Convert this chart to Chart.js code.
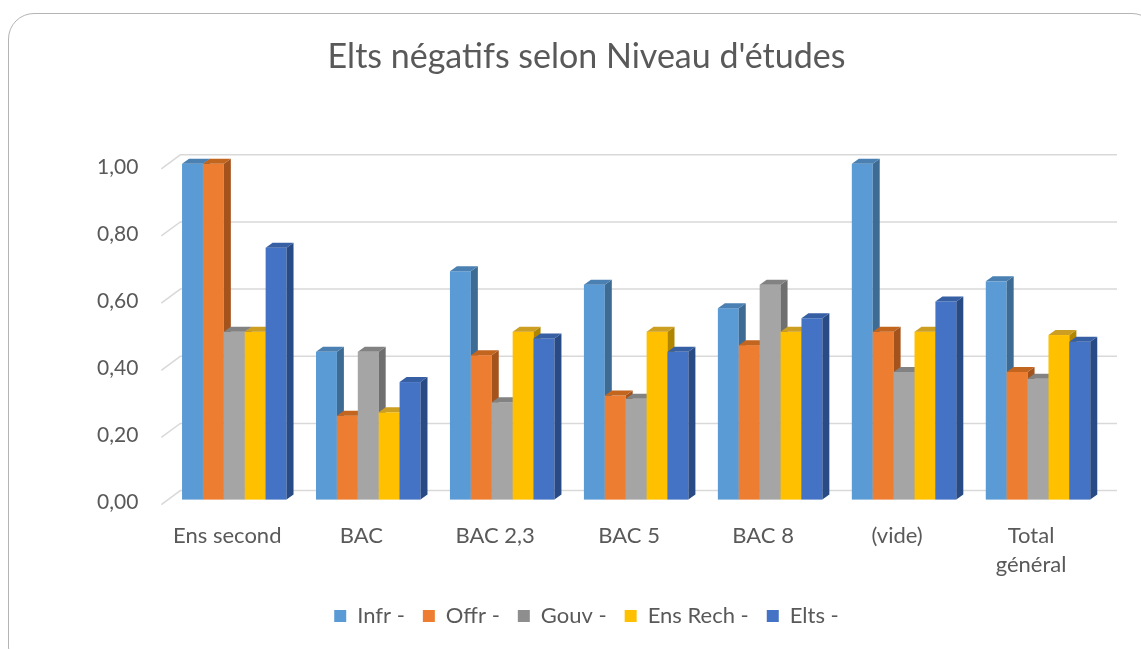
<!DOCTYPE html>
<html>
<head>
<meta charset="utf-8">
<script src="https://cdn.jsdelivr.net/npm/chart.js@4/dist/chart.umd.min.js"></script>
<style>
  html, body { margin: 0; padding: 0; background: #fff; overflow: hidden; }
  .frame {
    position: absolute; left: 8px; top: 13px; width: 1150px; height: 660px;
    border: 1.5px solid #b4b4b4; border-radius: 26px; box-sizing: border-box;
  }
  .chart-container { position: absolute; left: 0; top: 0; width: 1141px; height: 649px; }
</style>
</head>
<body>
<div class="frame"></div>
<div class="chart-container"><canvas id="myChart"></canvas></div>
<script>
const ctx = document.getElementById('myChart');

// Categories and series
const categories = ['Ens second', 'BAC', 'BAC 2,3', 'BAC 5', 'BAC 8', '(vide)', ['Total', 'général']];
const infr    = [1.00, 0.44, 0.68, 0.64, 0.57, 1.00, 0.65];
const offr    = [1.00, 0.25, 0.43, 0.31, 0.46, 0.50, 0.38];
const gouv    = [0.50, 0.44, 0.29, 0.30, 0.64, 0.38, 0.36];
const ensRech = [0.50, 0.26, 0.50, 0.50, 0.50, 0.50, 0.49];
const elts    = [0.75, 0.35, 0.48, 0.44, 0.54, 0.59, 0.47];
const yTicks  = [0, 0.2, 0.4, 0.6, 0.8, 1.0];

// front / side / top colours for the fake 3D look
const colors = [
  { front: '#5B9BD5', side: '#3E6B94', top: '#4A80B2' },
  { front: '#ED7D31', side: '#A4531C', top: '#C2651F' },
  { front: '#A5A5A5', side: '#6F6F6F', top: '#828282' },
  { front: '#FFC000', side: '#B08600', top: '#CC9E22' },
  { front: '#4472C4', side: '#284B86', top: '#375FA3' }
];
const legendColors = ['#5B9BD5', '#ED7D31', '#8E8E8E', '#FFC000', '#4472C4'];

const DX = 7, DY = 5;

const fmt = v => v.toFixed(2).replace('.', ',');

// back wall grid lines, drawn before the bars
const wallGrid = {
  id: 'wallGrid',
  beforeDatasetsDraw(chart) {
    const { ctx, chartArea, scales } = chart;
    ctx.save();
    ctx.strokeStyle = '#d9d9d9';
    ctx.lineWidth = 1.5;
    yTicks.forEach(v => {
      const y = scales.y.getPixelForValue(v);
      ctx.beginPath();
      ctx.moveTo(chartArea.left - 6, y + 5);
      ctx.lineTo(chartArea.left + 13, y - 9);
      ctx.lineTo(chartArea.right + 12, y - 9);
      ctx.stroke();
    });
    ctx.restore();
  }
};

// bars drawn one by one: front, side, top
const bars3d = {
  id: 'bars3d',
  beforeDatasetsDraw(chart) {
    const c = chart.ctx;
    const metas = chart.data.datasets.map((d, i) => chart.getDatasetMeta(i));
    c.save();
    for (let j = 0; j < categories.length; j++) {
      metas.forEach((meta, i) => {
        const bar = meta.data[j];
        const col = colors[i];
        const l = bar.x - bar.width / 2, r = bar.x + bar.width / 2;
        const t = bar.y, b = bar.base;
        c.fillStyle = col.front;
        c.fillRect(l, t, r - l, b - t);
        c.fillStyle = col.side;
        c.beginPath();
        c.moveTo(r, t); c.lineTo(r + DX, t - DY); c.lineTo(r + DX, b - DY); c.lineTo(r, b);
        c.closePath(); c.fill();
        c.fillStyle = col.top;
        c.beginPath();
        c.moveTo(l, t); c.lineTo(l + DX, t - DY); c.lineTo(r + DX, t - DY); c.lineTo(r, t);
        c.closePath(); c.fill();
      });
    }
    c.restore();
    return false;
  }
};

const makeSet = (label, data, i) => ({
  label: label,
  data: data,
  backgroundColor: colors[i].front,
  borderWidth: 0
});

new Chart(ctx, {
  type: 'bar',
  data: {
    labels: categories,
    datasets: [
      makeSet('Infr -', infr, 0),
      makeSet('Offr -', offr, 1),
      makeSet('Gouv -', gouv, 2),
      makeSet('Ens Rech -', ensRech, 3),
      makeSet('Elts -', elts, 4)
    ]
  },
  plugins: [wallGrid, bars3d],
  options: {
    responsive: true,
    maintainAspectRatio: false,
    animation: false,
    layout: { padding: { left: 68, right: 36, top: 22, bottom: 12 } },
    datasets: { bar: { categoryPercentage: 0.78, barPercentage: 1.0 } },
    plugins: {
      title: {
        display: true,
        text: "Elts négatifs selon Niveau d'études",
        color: '#595959',
        font: { family: 'Lato', size: 34, weight: 'normal' },
        padding: { top: 15, bottom: 86 }
      },
      legend: {
        position: 'bottom',
        labels: {
          color: '#595959',
          font: { family: 'Lato', size: 22 },
          boxWidth: 12,
          boxHeight: 12,
          padding: 18,
          generateLabels(chart) {
            const items = Chart.defaults.plugins.legend.labels.generateLabels(chart);
            items.forEach((it, i) => { it.fillStyle = legendColors[i]; it.strokeStyle = legendColors[i]; it.lineWidth = 0; });
            return items;
          }
        }
      },
      tooltip: { enabled: false }
    },
    scales: {
      x: {
        grid: { display: false, drawTicks: false },
        border: { display: false },
        afterFit(scale) { scale.height -= 14; },
        ticks: { color: '#595959', font: { family: 'Lato', size: 22, lineHeight: 1.35 }, padding: 21, labelOffset: -7, maxRotation: 0, autoSkip: false }
      },
      y: {
        min: 0,
        max: 1,
        grid: { display: false, drawTicks: false },
        border: { display: false },
        afterBuildTicks(scale) { scale.ticks = yTicks.map(v => ({ value: v })); },
        ticks: { color: '#595959', font: { family: 'Lato', size: 21 }, padding: 29, labelOffset: 3, callback: v => fmt(v) }
      }
    }
  }
});
</script>
</body>
</html>
